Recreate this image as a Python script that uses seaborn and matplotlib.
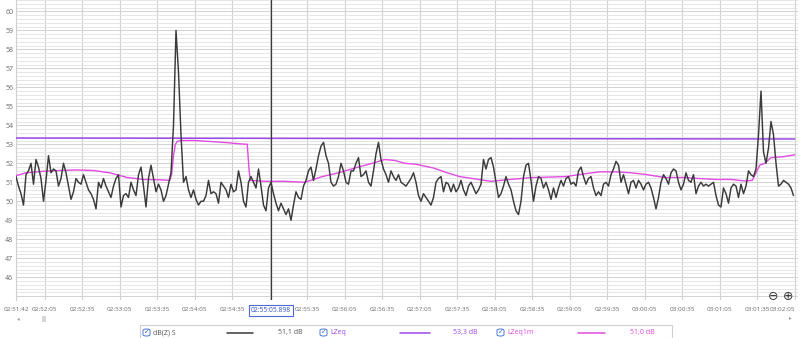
import numpy as np
import pandas as pd
import matplotlib
matplotlib.use("Agg")
import matplotlib.pyplot as plt
import seaborn as sns
from matplotlib.patches import Rectangle, FancyBboxPatch
from matplotlib.lines import Line2D
from matplotlib.transforms import blended_transform_factory

# ---------------- data ----------------
dbz_step = 2  # seconds between samples, starting 02:51:42
dbz_values = [
    51.3, 50.8, 50.4, 49.8, 51.4, 51.6, 52.0, 50.9, 52.2, 51.8, 51.2, 50.0, 51.1, 52.4, 51.5,
    51.7, 51.6, 50.8, 51.2, 52.0, 51.5, 50.8, 50.1, 50.5, 51.2, 51.0, 50.9, 51.4, 51.0, 50.6,
    50.4, 50.1, 49.6, 51.0, 50.7, 51.2, 50.8, 50.5, 50.2, 50.8, 51.2, 51.4, 49.7, 50.3, 50.4,
    50.2, 51.0, 50.6, 50.3, 51.4, 51.8, 50.8, 49.7, 51.2, 51.9, 51.2, 50.5, 50.9, 50.6, 50.0,
    50.3, 50.9, 51.5, 54.0, 59.0, 56.8, 53.5, 51.0, 51.3, 50.6, 50.2, 50.6, 50.1, 49.8, 50.0,
    50.0, 50.3, 51.1, 50.4, 50.5, 50.4, 49.9, 51.0, 50.8, 50.6, 50.2, 50.9, 50.5, 50.6, 51.6,
    51.0, 50.0, 49.7, 51.0, 51.3, 51.0, 50.7, 51.7, 50.8, 49.8, 49.5, 50.7, 51.0, 50.4, 49.9,
    49.5, 49.9, 49.6, 49.3, 49.6, 49.0, 49.8, 50.5, 50.2, 50.1, 50.8, 51.1, 51.6, 51.8, 51.1,
    51.7, 52.4, 52.9, 53.1, 52.4, 52.0, 51.0, 50.8, 50.9, 51.3, 52.0, 51.6, 51.0, 50.9, 51.6,
    51.6, 52.0, 52.3, 51.3, 51.4, 51.6, 51.0, 50.8, 51.6, 52.5, 53.1, 52.2, 51.7, 51.4, 51.0,
    51.6, 51.3, 51.1, 51.4, 51.0, 50.9, 50.8, 51.0, 51.2, 51.5, 51.0, 50.3, 50.0, 50.4, 50.2,
    50.0, 49.8, 50.2, 51.0, 51.2, 51.3, 50.5, 51.0, 50.9, 50.5, 50.9, 50.5, 50.7, 51.1, 50.6,
    50.3, 50.8, 51.0, 50.7, 50.4, 50.6, 50.9, 52.2, 51.7, 52.2, 52.3, 51.8, 51.0, 50.2, 50.4,
    50.8, 51.3, 50.9, 50.6, 50.0, 49.5, 49.3, 50.0, 51.3, 51.9, 52.0, 51.1, 50.0, 50.8, 51.3,
    51.2, 50.7, 51.0, 50.6, 50.1, 50.7, 50.2, 50.7, 51.1, 50.8, 51.2, 51.3, 50.9, 51.0, 50.8,
    51.6, 51.8, 51.3, 50.9, 51.2, 51.3, 50.7, 50.3, 50.5, 50.3, 50.9, 51.0, 50.8, 51.4, 51.7,
    52.1, 51.9, 51.0, 51.4, 50.9, 50.4, 51.0, 51.1, 50.7, 51.1, 50.9, 50.6, 50.9, 51.0, 50.7,
    50.2, 49.6, 50.2, 51.0, 51.4, 51.2, 50.9, 51.5, 51.7, 51.6, 51.0, 50.6, 50.9, 51.5, 51.1,
    51.0, 51.4, 50.4, 50.8, 51.0, 50.8, 50.9, 50.8, 50.9, 51.0, 50.3, 49.8, 49.7, 50.7, 50.4,
    49.9, 50.7, 50.9, 50.8, 50.2, 50.9, 50.4, 50.8, 51.6, 51.4, 51.3, 51.7, 53.5, 55.8, 52.6,
    52.0, 52.8, 54.2, 53.5, 52.0, 50.8, 50.9, 51.1, 51.0, 50.9, 50.7, 50.3,
]

lzeq1m_times = [0, 8, 22, 35, 48, 62, 75, 83, 89, 102, 115, 123, 124.5, 126, 127.5, 129,
                132, 142, 155, 170, 180, 185, 186.5, 187.5, 200, 215, 231, 238, 245, 258,
                271, 285, 295, 303, 311, 320, 334, 345, 355, 365, 380, 395, 414, 440, 455,
                467, 480, 492, 505, 519, 535, 546, 560, 572, 583, 589, 592, 595, 599, 604,
                614, 623]
lzeq1m_values = [51.35, 51.5, 51.58, 51.62, 51.65, 51.62, 51.5, 51.36, 51.25, 51.15, 51.13,
                 51.1, 51.4, 52.4, 53.0, 53.15, 53.2, 53.2, 53.15, 53.08, 53.02, 53.0, 51.6,
                 51.1, 51.05, 51.05, 51.0, 51.15, 51.3, 51.5, 51.75, 52.0, 52.2, 52.15, 52.0,
                 51.95, 51.75, 51.5, 51.3, 51.2, 51.05, 51.15, 51.25, 51.3, 51.45, 51.55,
                 51.55, 51.5, 51.4, 51.25, 51.25, 51.2, 51.15, 51.15, 51.07, 51.1, 51.5,
                 51.9, 52.0, 52.3, 52.35, 52.45]

lzeq_times = [0, 623]
lzeq_values = [53.33, 53.28]

tick_secs = [0, 23, 53, 83, 113, 143, 173, 203, 233, 263, 293, 323, 353, 383, 413,
             443, 473, 503, 533, 563, 593, 623]
tick_labels = ["02:51:42", "02:52:05", "02:52:35", "02:53:05", "02:53:35", "02:54:05",
               "02:54:35", "", "02:55:35", "02:56:05", "02:56:35", "02:57:05",
               "02:57:35", "02:58:05", "02:58:35", "02:59:05", "02:59:35", "03:00:05",
               "03:00:35", "03:01:05", "03:01:35", "03:02:05"]
y_ticks = list(range(45, 61))
y_labels = [""] + [str(v) for v in range(46, 61)]

cursor_sec = 203.898
cursor_label = "02:55:05.898"

legend_names = ["dB(Z) S", "LZeq", "LZeq1m"]
legend_values = ["51,1 dB", "53,3 dB", "51,0 dB"]

C_DBZ = "#3a3a3a"
C_LZEQ = "#9b48e8"
C_LZEQ1M = "#e24ae2"

# ---------------- figure ----------------
sns.set_style("white")
plt.rcParams["font.family"] = ["Open Sans", "DejaVu Sans"]

W, H = 800, 338
fig = plt.figure(figsize=(W / 100, H / 100), dpi=100)
ax = fig.add_axes([16 / W, 1 - 300 / H, 782 / W, 300 / H])

df_dbz = pd.DataFrame({"t": np.arange(len(dbz_values)) * dbz_step, "v": dbz_values})
df_1m = pd.DataFrame({"t": lzeq1m_times, "v": lzeq1m_values})
df_eq = pd.DataFrame({"t": lzeq_times, "v": lzeq_values})

sns.lineplot(data=df_1m, x="t", y="v", ax=ax, color=C_LZEQ1M, lw=1.0, estimator=None, zorder=3)
sns.lineplot(data=df_eq, x="t", y="v", ax=ax, color=C_LZEQ, lw=1.1, estimator=None, zorder=3)
sns.lineplot(data=df_dbz, x="t", y="v", ax=ax, color=C_DBZ, lw=1.05, estimator=None, zorder=4)

ax.set_xlim(0, 782 / 1.25)
ax.set_ylim(44.83, 60.56)
ax.set_xlabel("")
ax.set_ylabel("")

ax.set_yticks(y_ticks)
ax.set_yticklabels(y_labels)
ax.set_yticks(np.arange(44.8, 60.6, 0.2), minor=True)
ax.set_xticks(tick_secs)
ax.set_xticklabels(tick_labels)
for lab in ax.get_xticklabels():
    if lab.get_text() == "03:02:05":
        lab.set_horizontalalignment("right")
    if lab.get_text() == "02:51:42":
        lab.set_horizontalalignment("center")

ax.grid(which="major", axis="y", color="#d2d2d2", lw=0.7)
ax.grid(which="minor", axis="y", color="#e2e2e2", lw=0.6)
ax.grid(which="major", axis="x", color="#d0d0d0", lw=0.8)
ax.set_axisbelow(True)
ax.tick_params(axis="both", which="both", length=0, colors="#6a6a6a")
ax.tick_params(axis="y", pad=2, labelsize=5.0)
ax.tick_params(axis="x", pad=5, labelsize=4.6)
for s in ["top", "right", "bottom"]:
    ax.spines[s].set_visible(False)
ax.spines["left"].set_color("#d0d0d0")
ax.spines["left"].set_linewidth(0.8)

# cursor
ax.axvline(cursor_sec, color="#3a3a3a", lw=0.9, zorder=5)
trans = blended_transform_factory(ax.transData, ax.transAxes)
ax.text(cursor_sec, -0.022, cursor_label, transform=trans, ha="center", va="top",
        fontsize=4.8, color="#2f4fc4", zorder=6,
        bbox=dict(boxstyle="square,pad=0.3", fc="white", ec="#4a6cd4", lw=0.8))

# zoom buttons
fig.text(773 / W, 1 - 296 / H, "\u2296", fontsize=9, color="#3a3a3a", ha="center", va="center")
fig.text(788 / W, 1 - 296 / H, "\u2295", fontsize=9, color="#3a3a3a", ha="center", va="center")

# scrollbar hints
fig.text(18 / W, 1 - 319 / H, "\u25c2", fontsize=4, color="#9a9a9a", ha="center", va="center")
fig.add_artist(Rectangle((42 / W, 1 - 322 / H), 4 / W, 6 / H, transform=fig.transFigure,
                         fc="#d6d6d6", ec="none"))
fig.text(790 / W, 1 - 318 / H, "\u25b8", fontsize=4, color="#9a9a9a", ha="center", va="center")

# legend strip
fig.add_artist(Rectangle((140 / W, 0), 532 / W, 13.5 / H, transform=fig.transFigure,
                         fc="white", ec="#cfcfcf", lw=0.8, clip_on=False))
ly = 1 - 332.5 / H
entries = [
    (143, 153, 227, 253, 278, C_DBZ, "#555555", "#555555"),
    (320, 330, 400, 430, 453, C_LZEQ, C_LZEQ, C_LZEQ),
    (497, 507, 578, 605, 630, C_LZEQ1M, C_LZEQ1M, C_LZEQ1M),
]
for (cbx, tx, l0, l1, vx, lc, nc, vc), name, val in zip(entries, legend_names, legend_values):
    fig.add_artist(FancyBboxPatch((cbx / W, ly - 3.5 / H), 7 / W, 7 / H,
                                  boxstyle="round,pad=0,rounding_size=0.004",
                                  transform=fig.transFigure, fc="white", ec="#4a78d4", lw=0.7))
    fig.text((cbx + 3.5) / W, ly, "\u2713", fontsize=5, color="#3a66c8", ha="center", va="center")
    fig.text(tx / W, ly, name, fontsize=5.0, color=nc, ha="left", va="center")
    fig.add_artist(Line2D([l0 / W, l1 / W], [ly, ly], transform=fig.transFigure, color=lc, lw=1.1))
    fig.text(vx / W, ly, val, fontsize=5.0, color=vc, ha="left", va="center")

fig.savefig("out.png", dpi=100, facecolor="white")
